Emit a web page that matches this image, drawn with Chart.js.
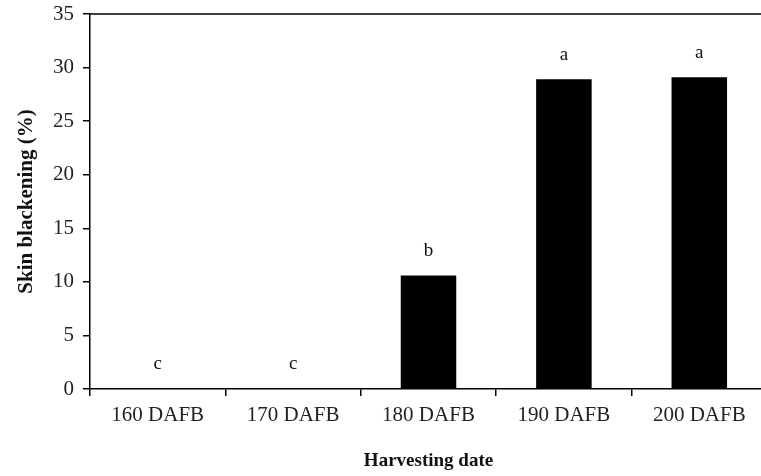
<!DOCTYPE html>
<html>
<head>
<meta charset="utf-8">
<script src="https://cdn.jsdelivr.net/npm/chart.js@4/dist/chart.umd.min.js"></script>
<style>
  html, body { margin: 0; padding: 0; background: #fff; overflow: hidden; }
  #wrap { width: 761px; height: 476px; overflow: hidden; }
</style>
</head>
<body>
<div id="wrap"><canvas id="myChart" width="767" height="476"></canvas></div>
<script>
// chart data
const dates = ["160 DAFB", "170 DAFB", "180 DAFB", "190 DAFB", "200 DAFB"];
const blackening = [0, 0, 10.6, 28.9, 29.1];
const letters = ["c", "c", "b", "a", "a"];

const serif = "'Liberation Serif', 'Times New Roman', serif";

// draws the top frame line and the significance letters
const extras = {
  id: "extras",
  afterDatasetsDraw(chart) {
    const ctx = chart.ctx;
    const area = chart.chartArea;
    ctx.save();
    ctx.strokeStyle = "#000";
    ctx.lineWidth = 1.5;
    ctx.beginPath();
    ctx.moveTo(area.left, area.top);
    ctx.lineTo(area.right, area.top);
    ctx.stroke();

    const meta = chart.getDatasetMeta(0);
    ctx.fillStyle = "#111";
    ctx.font = "19px " + serif;
    ctx.textAlign = "center";
    ctx.textBaseline = "bottom";
    meta.data.forEach((bar, i) => {
      ctx.fillText(letters[i], bar.x, bar.y - 15);
    });
    ctx.restore();
  },
};

const ctx = document.getElementById("myChart").getContext("2d");
const myChart = new Chart(ctx, {
  type: "bar",
  data: {
    labels: dates,
    datasets: [
      {
        data: blackening,
        backgroundColor: "#000",
        borderWidth: 0,
        barPercentage: 0.41,
        categoryPercentage: 1,
      },
    ],
  },
  options: {
    responsive: false,
    animation: false,
    layout: { padding: { left: 8, top: 14, right: 0, bottom: 4 } },
    plugins: {
      legend: { display: false },
      tooltip: { enabled: false },
    },
    scales: {
      x: {
        offset: true,
        grid: {
          display: true,
          offset: true,
          drawOnChartArea: false,
          drawTicks: true,
          tickLength: 7,
          color: "#000",
          lineWidth: 1.5,
        },
        border: { display: true, color: "#000", width: 1.5 },
        ticks: {
          color: "#222",
          font: { family: serif, size: 21 },
          padding: 7,
          maxRotation: 0,
        },
        title: {
          display: true,
          text: "Harvesting date",
          color: "#111",
          font: { family: serif, size: 19, weight: "bold" },
          padding: { top: 18, bottom: 0 },
        },
        afterFit(scale) {
          scale.height = 476 - 389 - 4;
          scale.paddingLeft = 0;
          scale.paddingRight = 0;
        },
      },
      y: {
        min: 0,
        max: 35,
        ticks: {
          stepSize: 5,
          color: "#222",
          font: { family: serif, size: 21 },
          padding: 9,
        },
        grid: {
          display: true,
          drawOnChartArea: false,
          drawTicks: true,
          tickLength: 7,
          color: "#000",
          lineWidth: 1.5,
        },
        border: { display: true, color: "#000", width: 1.5 },
        title: {
          display: true,
          text: "Skin blackening (%)",
          color: "#111",
          font: { family: serif, size: 21, weight: "bold" },
          padding: { top: 6, bottom: 0 },
        },
        afterFit(scale) {
          scale.width = 90 - 8;
          scale.paddingTop = 0;
          scale.paddingBottom = 0;
        },
      },
    },
  },
  plugins: [extras],
});
</script>
</body>
</html>
